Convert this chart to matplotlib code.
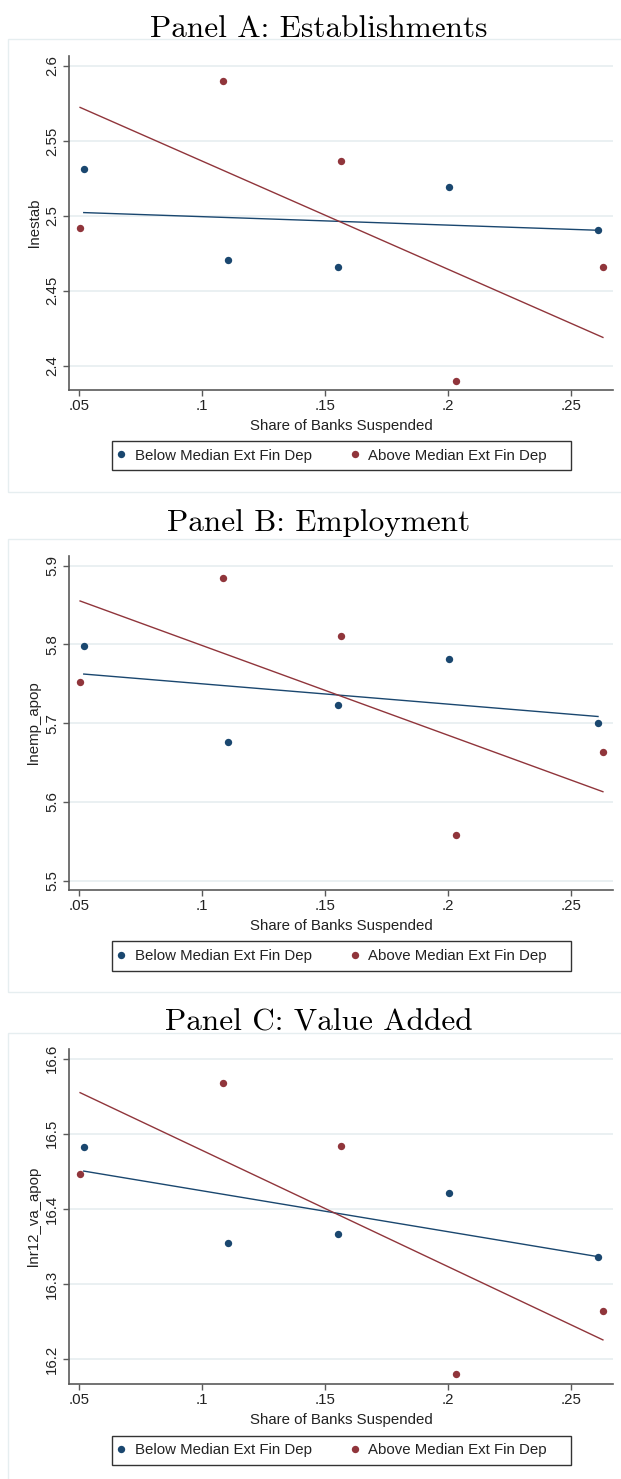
import matplotlib
matplotlib.use('Agg')
import matplotlib.pyplot as plt
from matplotlib.patches import Rectangle
from matplotlib.lines import Line2D

# ---------------- data ----------------
x_below = [0.0518, 0.1103, 0.1550, 0.2004, 0.2609]
x_above = [0.0503, 0.1084, 0.1563, 0.2031, 0.2629]

estab_below = [2.5315, 2.4708, 2.4657, 2.5192, 2.4906]
estab_above = [2.4918, 2.5900, 2.5364, 2.3900, 2.4659]
estab_fit_below = [2.5022, 2.4904]
estab_fit_above = [2.5724, 2.4189]

emp_below = [5.7975, 5.6755, 5.7237, 5.7820, 5.7000]
emp_above = [5.7526, 5.8840, 5.8110, 5.5580, 5.6630]
emp_fit_below = [5.7624, 5.7085]
emp_fit_above = [5.8552, 5.6130]

va_below = [16.4819, 16.3550, 16.3660, 16.4213, 16.3360]
va_above = [16.4460, 16.5670, 16.4840, 16.1800, 16.2640]
va_fit_below = [16.4504, 16.3365]
va_fit_above = [16.5548, 16.2257]

titles = ["Panel A: Establishments", "Panel B: Employment", "Panel C: Value Added"]
ylabels = ["lnestab", "lnemp_apop", "lnr12_va_apop"]
xlabel = "Share of Banks Suspended"
legend_labels = ["Below Median Ext Fin Dep", "Above Median Ext Fin Dep"]

xticks = [0.05, 0.10, 0.15, 0.20, 0.25]
xtick_labels = [".05", ".1", ".15", ".2", ".25"]
estab_ticks = [2.4, 2.45, 2.5, 2.55, 2.6]
estab_tick_labels = ["2.4", "2.45", "2.5", "2.55", "2.6"]
emp_ticks = [5.5, 5.6, 5.7, 5.8, 5.9]
emp_tick_labels = ["5.5", "5.6", "5.7", "5.8", "5.9"]
va_ticks = [16.2, 16.3, 16.4, 16.5, 16.6]
va_tick_labels = ["16.2", "16.3", "16.4", "16.5", "16.6"]

# ---------------- styling / layout ----------------
W, H, DPI = 621, 1479, 100
NAVY = "#1a476f"
MAROON = "#90353b"
GRID = "#e6eef0"
AXC = "#5a5a5a"
TXT = "#222222"
SANS = "Liberation Sans"
FS = 10.8

fig = plt.figure(figsize=(W / DPI, H / DPI), dpi=DPI)
fig.patch.set_facecolor("white")


def fx(px):
    return px / W


def fy(py):
    return 1 - py / H


panels = [
    dict(below=estab_below, above=estab_above, fb=estab_fit_below, fa=estab_fit_above,
         yt=estab_ticks, ytl=estab_tick_labels, ylim=(2.3838, 2.6067),
         top=56, bottom=390, title_y=36.7, box=(39.3, 491.7), leg=(441, 470.3)),
    dict(below=emp_below, above=emp_above, fb=emp_fit_below, fa=emp_fit_above,
         yt=emp_ticks, ytl=emp_tick_labels, ylim=(5.4882, 5.9123),
         top=556, bottom=890, title_y=530.7, box=(539.3, 991.7), leg=(941, 970.7)),
    dict(below=va_below, above=va_above, fb=va_fit_below, fa=va_fit_above,
         yt=va_ticks, ytl=va_tick_labels, ylim=(16.167, 16.6125),
         top=1049.3, bottom=1384, title_y=1030.7, box=(1032.7, 1500), leg=(1435.7, 1465)),
]

LEFT, RIGHT = 69, 613
LEG_L, LEG_R = 112, 570.7

for i, p in enumerate(panels):
    # graph-region outline
    b0, b1 = p["box"]
    fig.patches.append(Rectangle((fx(8.3), fy(b1)), fx(640 - 8.3), (b1 - b0) / H,
                                 transform=fig.transFigure, fill=False,
                                 edgecolor=GRID, lw=1.0, zorder=0))
    fig.text(fx(319), fy(p["title_y"]), titles[i], family="cmr10", fontsize=22.5,
             ha="center", va="baseline")

    hpx = p["bottom"] - p["top"]
    ax = fig.add_axes([fx(LEFT), fy(p["bottom"]), fx(RIGHT - LEFT), hpx / H])
    ax.set_facecolor("white")
    ax.set_xlim(0.0458, 0.267)
    ax.set_ylim(*p["ylim"])

    ax.plot([x_below[0], x_below[-1]], p["fb"], color=NAVY, lw=1.0, zorder=2)
    ax.plot([x_above[0], x_above[-1]], p["fa"], color=MAROON, lw=1.0, zorder=2)
    ax.plot(x_below, p["below"], "o", color=NAVY, ms=5.3, mec="none", zorder=3)
    ax.plot(x_above, p["above"], "o", color=MAROON, ms=5.3, mec="none", zorder=3)

    ax.set_xticks(xticks)
    ax.set_xticklabels(xtick_labels, family=SANS, fontsize=FS)
    ax.set_yticks(p["yt"])
    ax.set_yticklabels(p["ytl"], family=SANS, fontsize=FS, rotation=90, va="center")

    ax.grid(axis="y", color=GRID, lw=1.2)
    ax.set_axisbelow(True)
    for s in ("top", "right"):
        ax.spines[s].set_visible(False)
    for s in ("left", "bottom"):
        ax.spines[s].set_color(AXC)
        ax.spines[s].set_linewidth(1.2)
    ax.tick_params(axis="both", color=AXC, length=4.3, width=1.0, labelcolor=TXT)
    ax.tick_params(axis="x", pad=2.5)
    ax.tick_params(axis="y", pad=3.0)

    ax.set_xlabel(xlabel, family=SANS, fontsize=FS, color=TXT, va="center")
    ax.xaxis.set_label_coords(0.5, -(426 - 390) / 334)
    ax.set_ylabel(ylabels[i], family=SANS, fontsize=FS, color=TXT, va="center")
    ax.yaxis.set_label_coords(-(69 - 34.5) / (RIGHT - LEFT), 0.5)

    # legend: entries from matplotlib legend, frame drawn as exact box
    l0, l1 = p["leg"]
    fig.patches.append(Rectangle((fx(LEG_L), fy(l1)), fx(LEG_R - LEG_L), (l1 - l0) / H,
                                 transform=fig.transFigure, fill=False,
                                 edgecolor="#333333", lw=1.0, zorder=5))
    handles = [Line2D([], [], ls="none", marker="o", color=NAVY, ms=5.3, mec="none"),
               Line2D([], [], ls="none", marker="o", color=MAROON, ms=5.3, mec="none")]
    leg = ax.legend(handles, legend_labels, loc="center left",
                    bbox_to_anchor=(fx(LEG_L), fy((l0 + l1) / 2)),
                    bbox_transform=fig.transFigure, ncol=2, frameon=False,
                    borderpad=0.0, handlelength=0.6, handletextpad=0.6,
                    columnspacing=2.55, borderaxespad=0.33,
                    prop=dict(family=SANS, size=FS))
    for t in leg.get_texts():
        t.set_color(TXT)

fig.savefig("out.png", dpi=DPI)
